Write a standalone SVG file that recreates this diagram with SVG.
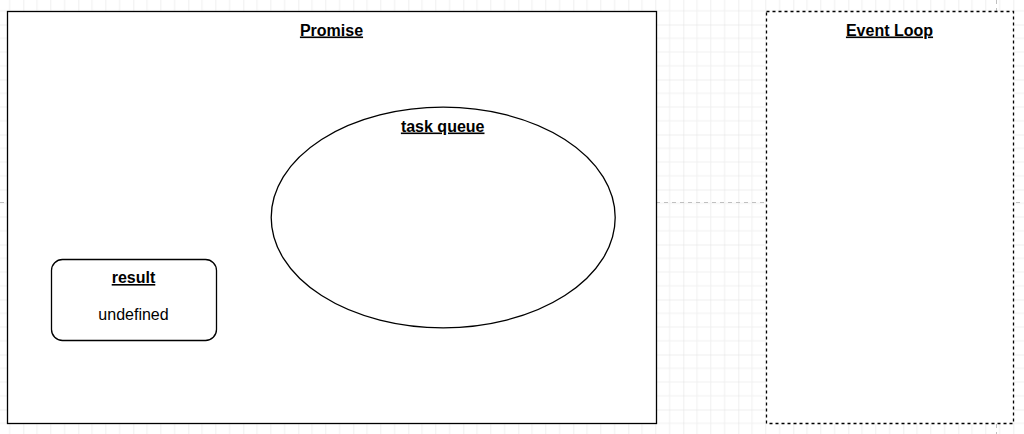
<svg xmlns="http://www.w3.org/2000/svg" width="1024" height="434" viewBox="0 0 1024 434">
  <style>
    .box { fill: #ffffff; stroke: #000000; stroke-width: 1.3; }
    .dashed { stroke-dasharray: 3 3; }
    .title { font-family: "Liberation Sans", Arial, sans-serif; font-size: 16px; font-weight: bold; text-decoration: underline; fill: #000000; text-anchor: middle; }
    .body { font-family: "Liberation Sans", Arial, sans-serif; font-size: 16px; fill: #000000; text-anchor: middle; }
    .pagebreak { stroke: #c0c0c0; stroke-width: 1; stroke-dasharray: 4 4; fill: none; }
  </style>
  <defs>
    <pattern id="grid" patternUnits="userSpaceOnUse" x="23.3" y="24.5" width="55" height="55">
      <path d="M13.75 0V55M27.5 0V55M41.25 0V55M0 13.75H55M0 27.5H55M0 41.25H55" stroke="#f0f0f0" stroke-width="1" fill="none"/>
      <path d="M0 0V55M0 0H55" stroke="#e0e0e0" stroke-width="1" fill="none"/>
    </pattern>
  </defs>
  <rect width="1024" height="434" fill="#ffffff"/>
  <rect width="1024" height="434" fill="url(#grid)"/>
  <g id="page-breaks">
    <line class="pagebreak" x1="0" y1="202.5" x2="1024" y2="202.5"/>
    <line class="pagebreak" x1="996.5" y1="0" x2="996.5" y2="434"/>
  </g>
  <g id="promise">
    <rect class="box" x="7.5" y="11.5" width="649" height="412"/>
    <text class="title" x="331.5" y="35.5">Promise</text>
  </g>
  <g id="event-loop">
    <rect class="box dashed" x="766.5" y="11.5" width="247" height="412"/>
    <text class="title" x="889.5" y="35.5">Event Loop</text>
  </g>
  <g id="task-queue">
    <ellipse class="box" cx="443.2" cy="217.5" rx="172" ry="110.3"/>
    <text class="title" x="442.7" y="131.5">task queue</text>
  </g>
  <g id="result">
    <rect class="box" x="51.5" y="259.5" width="165" height="81" rx="11" ry="11"/>
    <text class="title" x="133.5" y="283">result</text>
    <text class="body" x="133.5" y="320">undefined</text>
  </g>
  <g id="connectors"></g>
</svg>
